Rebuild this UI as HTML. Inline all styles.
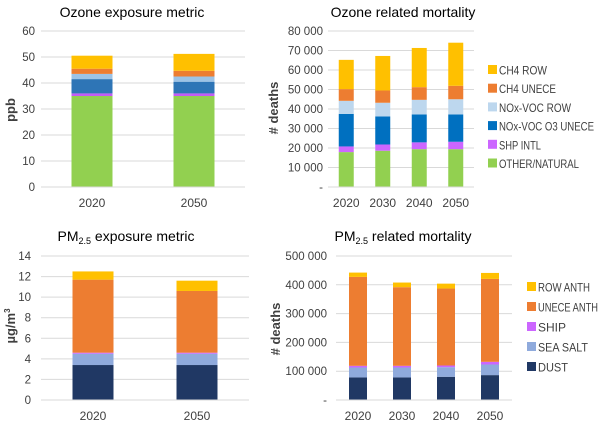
<!DOCTYPE html>
<html><head><meta charset="utf-8">
<style>
html,body{margin:0;padding:0;background:#fff;}
svg{display:block;font-family:"Liberation Sans",sans-serif;}
</style></head>
<body>
<svg id="c" width="600" height="424" viewBox="0 0 600 424" xmlns="http://www.w3.org/2000/svg"></svg>
<script>
// ---- Chart 1: Ozone exposure metric (ppb)
const o3eCats = ["2020","2050"];
const o3eNatural = [35, 35];
const o3eShip = [1, 1];
const o3eNoxUnece = [5.5, 4.5];
const o3eNoxRow = [2, 2];
const o3eCh4Unece = [2, 2.2];
const o3eCh4Row = [5, 6.5];
const o3eTicks = ["0","10","20","30","40","50","60"];
// ---- Chart 2: Ozone related mortality
const o3mCats = ["2020","2030","2040","2050"];
const o3mNatural = [17900, 18600, 19400, 19400];
const o3mShip = [2900, 3200, 3500, 3800];
const o3mNoxUnece = [16700, 14400, 14300, 14000];
const o3mNoxRow = [6700, 7000, 7500, 7800];
const o3mCh4Unece = [6000, 6300, 6500, 6900];
const o3mCh4Row = [15000, 17700, 20100, 22100];
const o3mTicks = ["-","10 000","20 000","30 000","40 000","50 000","60 000","70 000","80 000"];
// ---- Chart 3: PM2.5 exposure metric
const pmeCats = ["2020","2050"];
const pmeDust = [3.4, 3.4];
const pmeSeaSalt = [1.1, 1.1];
const pmeShip = [0.1, 0.1];
const pmeUnece = [7.1, 6.0];
const pmeRow = [0.8, 1.0];
const pmeTicks = ["0","2","4","6","8","10","12","14"];
// ---- Chart 4: PM2.5 related mortality
const pmmCats = ["2020","2030","2040","2050"];
const pmmDust = [78300, 78300, 80600, 86400];
const pmmSeaSalt = [34600, 34600, 33400, 36900];
const pmmShip = [5800, 5800, 5800, 9200];
const pmmUnece = [308700, 273000, 267200, 288000];
const pmmRow = [15000, 16100, 17000, 20700];
const pmmTicks = ["-","100 000","200 000","300 000","400 000","500 000"];

const NS="http://www.w3.org/2000/svg";
const svg=document.getElementById('c');
function el(tag,attrs,parent){const e=document.createElementNS(NS,tag);for(const k in attrs)e.setAttribute(k,attrs[k]);(parent||svg).appendChild(e);return e;}
function txt(s,attrs,parent){const e=el('text',attrs,parent);e.textContent=s;return e;}

function chart(cfg){
  const g=el('g',{});
  
  
  const max=cfg.max, y=v=>cfg.y0-(v/max)*(cfg.y0-cfg.y1);
  const n=cfg.ticks.length;
  cfg.ticks.forEach((t,i)=>{
    const val=max*i/(n-1), yy=y(val);
    const gl=el('line',{x1:cfg.x0,x2:cfg.x1,y1:yy,y2:yy,stroke:'#d9d9d9','stroke-width':1},g);
    
    
    const tl=txt(t,{x:cfg.tickX,y:yy+4,'text-anchor':'end','font-size':11.5,fill:'#404040'},g);
    
    
  });
  const nc=cfg.cats.length, step=(cfg.x1-cfg.x0)/nc;
  cfg.cats.forEach((c,i)=>{
    const cx=cfg.x0+step*(i+0.5);
    let acc=0;
    cfg.series.forEach(s=>{
      const v=s.data[i];
      const r=el('rect',{x:cx-cfg.bw/2,y:y(acc+v),width:cfg.bw,height:y(acc)-y(acc+v),fill:s.color},g);
      
      
      acc+=v;
    });
    const xl=txt(c,{x:cx,y:cfg.y0+20,'text-anchor':'middle','font-size':12,fill:'#404040'},g);
    
    
  });
  const ax=el('line',{x1:cfg.x0,x2:cfg.x1,y1:cfg.y0,y2:cfg.y0,stroke:'#d9d9d9','stroke-width':1},g);
  
  
  const t=el('text',{x:cfg.titleX,y:cfg.titleY,'text-anchor':'middle','font-size':14,fill:'#000'},g);
  
  
  if(cfg.sub){
    const a=el('tspan',{},t);a.textContent='PM';
    const b=el('tspan',{'font-size':9,dy:3},t);b.textContent='2.5';
    const d=el('tspan',{dy:-3},t);d.textContent=' '+cfg.title;
  } else t.textContent=cfg.title;
  const yl=el('text',{transform:'translate('+cfg.ylX+','+cfg.ylY+') rotate(-90)','text-anchor':'middle','font-size':13,'font-weight':'bold',fill:'#404040'},g);
  
  
  if(cfg.ylSup){const a=el('tspan',{},yl);a.textContent='µg/m';const b=el('tspan',{'font-size':8,dy:-5},yl);b.textContent='3';}
  else yl.textContent=cfg.ylabel;
  if(cfg.legend){
    const L=cfg.legend;
    const items=cfg.series.slice().reverse();
    items.forEach((s,i)=>{
      const ly=L.y+i*L.dy;
      const lg=el('g',{},g);
      
      
      el('rect',{x:L.x,y:ly-5,width:9,height:9,fill:s.color},lg);
      const tt=txt(s.label,{x:L.x+11,y:ly+4.5,'font-size':12,fill:'#404040'},lg);
      if(s.w){tt.setAttribute('textLength',s.w);tt.setAttribute('lengthAdjust','spacingAndGlyphs');}
    });
  }
}

chart({name:'ozone-exposure-chart',cats:o3eCats,ticks:o3eTicks,max:60,x0:41,x1:245,y0:187,y1:31,bw:41,tickX:35,
  series:[{key:'natural',data:o3eNatural,color:'#92d050'},{key:'ship',data:o3eShip,color:'#c45bf5'},{key:'nox-unece',data:o3eNoxUnece,color:'#2e75b6'},{key:'nox-row',data:o3eNoxRow,color:'#9dc3e6'},{key:'ch4-unece',data:o3eCh4Unece,color:'#ed7d31'},{key:'ch4-row',data:o3eCh4Row,color:'#ffc000'}],
  title:'Ozone exposure metric',titleX:132,titleY:17,ylabel:'ppb',ylX:15,ylY:110});

chart({name:'ozone-mortality-chart',cats:o3mCats,ticks:o3mTicks,max:80000,x0:328,x1:474,y0:187,y1:31,bw:15,tickX:323,
  series:[{key:'natural',data:o3mNatural,color:'#92d050',label:'OTHER/NATURAL',w:80},{key:'ship',data:o3mShip,color:'#cc66ff',label:'SHP INTL',w:42},{key:'nox-unece',data:o3mNoxUnece,color:'#0070c0',label:'NOx-VOC O3  UNECE',w:95},{key:'nox-row',data:o3mNoxRow,color:'#bdd7ee',label:'NOx-VOC  ROW',w:72},{key:'ch4-unece',data:o3mCh4Unece,color:'#ed7d31',label:'CH4  UNECE',w:57},{key:'ch4-row',data:o3mCh4Row,color:'#ffc000',label:'CH4  ROW',w:48}],
  title:'Ozone related mortality',titleX:403,titleY:17,ylabel:'# deaths',ylX:278,ylY:108,
  legend:{x:488,y:70,dy:18.7}});

chart({name:'pm25-exposure-chart',cats:pmeCats,ticks:pmeTicks,max:14,x0:41,x1:249,y0:400,y1:256,bw:41,tickX:31,
  series:[{key:'dust',data:pmeDust,color:'#203864'},{key:'sea-salt',data:pmeSeaSalt,color:'#8faadc'},{key:'ship',data:pmeShip,color:'#cc66ff'},{key:'unece-anth',data:pmeUnece,color:'#ed7d31'},{key:'row-anth',data:pmeRow,color:'#ffc000'}],
  sub:true,title:'exposure metric',titleX:126,titleY:241,ylSup:true,ylX:15,ylY:326});

chart({name:'pm25-mortality-chart',cats:pmmCats,ticks:pmmTicks,max:500000,x0:336,x1:512,y0:400,y1:256,bw:18,tickX:327,
  series:[{key:'dust',data:pmmDust,color:'#203864',label:'DUST',w:30},{key:'sea-salt',data:pmmSeaSalt,color:'#8faadc',label:'SEA SALT',w:50},{key:'ship',data:pmmShip,color:'#cc66ff',label:'SHIP',w:28},{key:'unece-anth',data:pmmUnece,color:'#ed7d31',label:'UNECE ANTH',w:60},{key:'row-anth',data:pmmRow,color:'#ffc000',label:'ROW ANTH',w:52}],
  sub:true,title:'related mortality',titleX:403,titleY:241,ylabel:'# deaths',ylX:280,ylY:329,
  legend:{x:527,y:287,dy:20}});
</script>
</body></html>
